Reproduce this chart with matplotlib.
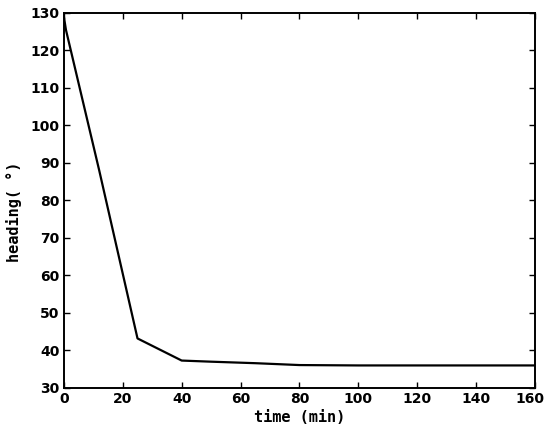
import matplotlib
matplotlib.use("Agg")
import matplotlib.pyplot as plt
from matplotlib.transforms import ScaledTranslation

time_min = [0, 0.7, 12, 25, 40, 50, 65, 80, 100, 160]
heading = [129, 125.5, 88, 43.2, 37.3, 37.0, 36.6, 36.1, 36.0, 36.0]

x_ticks = [0, 20, 40, 60, 80, 100, 120, 140, 160]
y_ticks = [30, 40, 50, 60, 70, 80, 90, 100, 110, 120, 130]

fig = plt.figure(figsize=(5.46, 4.32), dpi=100)
ax = fig.add_axes([0.117, 0.102, 0.863, 0.868])
ax.plot(time_min, heading, color="black", linewidth=1.6)
ax.set_xlim(0, 160)
ax.set_ylim(30, 130)
ax.set_xticks(x_ticks)
ax.set_yticks(y_ticks)
ax.tick_params(direction="in", top=True, right=True, length=4, width=1,
               labelsize=10, pad=3)
for lbl in ax.get_xticklabels() + ax.get_yticklabels():
    lbl.set_fontweight("bold")
    lbl.set_family("DejaVu Sans Condensed")
last = ax.get_xticklabels()[-1]
last.set_transform(last.get_transform() + ScaledTranslation(-4 / 72, 0, fig.dpi_scale_trans))
for s in ax.spines.values():
    s.set_linewidth(1.4)
ax.set_xlabel("time (min)", family="DejaVu Sans Mono", fontsize=11,
              fontweight="bold", labelpad=3)
ax.set_ylabel("heading( °)", family="DejaVu Sans Mono", fontsize=11,
              fontweight="bold", labelpad=6)
ax.yaxis.set_label_coords(-0.088, 0.47)
fig.savefig("out.png", dpi=100)
